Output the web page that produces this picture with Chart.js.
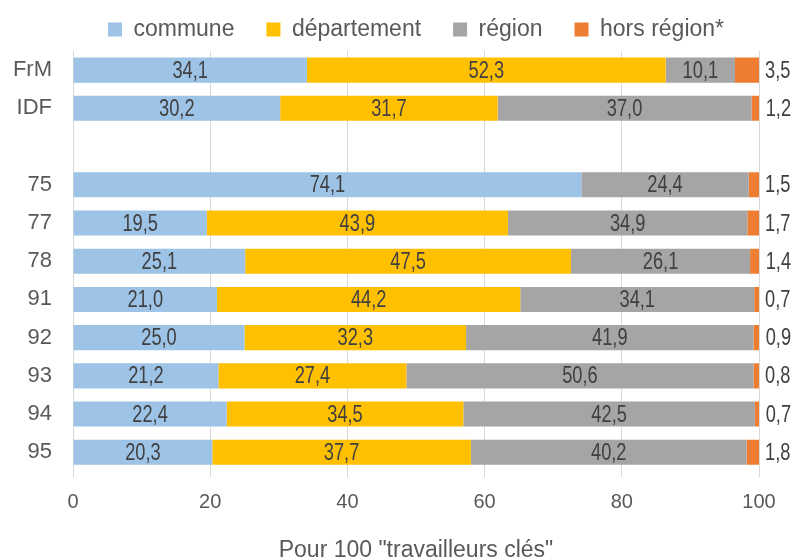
<!DOCTYPE html>
<html>
<head>
<meta charset="utf-8">
<script src="https://cdn.jsdelivr.net/npm/chart.js@4"></script>
<style>
  html,body{margin:0;padding:0;background:#fff;}
  #chart{display:block;}
</style>
</head>
<body>
<canvas id="chart" width="796" height="558"></canvas>
<script>
const categories = ["FrM","IDF","","75","77","78","91","92","93","94","95"];
const commune     = [34.1,30.2,null,74.1,19.5,25.1,21.0,25.0,21.2,22.4,20.3];
const departement = [52.3,31.7,null,null,43.9,47.5,44.2,32.3,27.4,34.5,37.7];
const region      = [10.1,37.0,null,24.4,34.9,26.1,34.1,41.9,50.6,42.5,40.2];
const horsRegion  = [3.5,1.2,null,1.5,1.7,1.4,0.7,0.9,0.8,0.7,1.8];
const xTicks = [0,20,40,60,80,100];

const FONT = '"Liberation Sans",Arial,sans-serif';
const GREY = "#595959";

// valeurs dans les barres (police étroite simulée), hors région à droite
const barLabels = {
  id:"barLabels",
  afterDatasetsDraw(chart){
    const ctx = chart.ctx;
    chart.data.datasets.forEach((ds,i)=>{
      const meta = chart.getDatasetMeta(i);
      meta.data.forEach((el,j)=>{
        const v = ds.data[j];
        if(v==null) return;
        const txt = v.toFixed(1).replace(".",",");
        ctx.save();
        ctx.font = "24px " + FONT;
        ctx.fillStyle = "#404040";
        ctx.textBaseline = "middle";
        if(i===3){
          ctx.textAlign = "left";
          ctx.translate(el.x+6, el.y+1);
        } else {
          ctx.textAlign = "center";
          ctx.translate((el.x+el.base)/2, el.y+1);
        }
        ctx.scale(0.76,1);
        ctx.fillText(txt,0,0);
        ctx.restore();
      });
    });
  }
};

new Chart(document.getElementById("chart"),{
  type:"bar",
  data:{
    labels:categories,
    datasets:[
      {label:"commune", data:commune, backgroundColor:"#9DC3E6"},
      {label:"département", data:departement, backgroundColor:"#FFC000"},
      {label:"région", data:region, backgroundColor:"#A5A5A5"},
      {label:"hors région*", data:horsRegion, backgroundColor:"#ED7D31"}
    ]
  },
  options:{
    indexAxis:"y",
    responsive:false,
    animation:false,
    datasets:{bar:{categoryPercentage:0.656, barPercentage:1, borderWidth:0}},
    layout:{padding:{top:-14,right:37,left:0,bottom:-6}},
    plugins:{
      legend:{
        position:"top",
        fullSize:false,
        labels:{font:{size:23,family:FONT}, color:GREY, boxWidth:14, boxHeight:14, padding:32}
      },
      tooltip:{enabled:false}
    },
    scales:{
      x:{
        stacked:true, min:0, max:100,
        afterBuildTicks(axis){ axis.ticks = xTicks.map(v=>({value:v})); },
        grid:{color:"#d9d9d9", lineWidth:1, drawTicks:true, tickLength:6},
        border:{display:false},
        ticks:{font:{size:20,family:FONT}, color:GREY, padding:13},
        title:{display:true, text:'Pour 100 "travailleurs clés"', font:{size:23,family:FONT}, color:GREY, padding:{top:9,bottom:0}}
      },
      y:{
        stacked:true,
        afterFit(scale){ scale.width = 73; },
        grid:{display:false},
        border:{display:false},
        ticks:{font:{size:22,family:FONT}, color:GREY, padding:13}
      }
    }
  },
  plugins:[barLabels]
});
</script>
</body>
</html>
